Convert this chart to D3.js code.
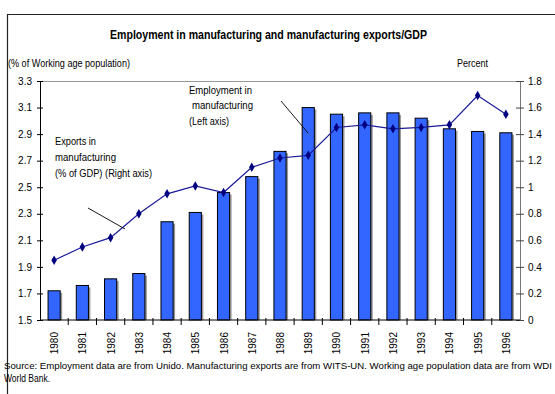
<!DOCTYPE html>
<html>
<head>
<meta charset="utf-8">
<script src="https://cdn.jsdelivr.net/npm/d3@7"></script>
<style>
  html, body { margin: 0; padding: 0; background: #fff; }
  svg { display: block; font-family: "Liberation Sans", Arial, sans-serif; }
</style>
</head>
<body>
<svg id="chart" width="555" height="394"></svg>
<script>
// Data
const years = ["1980","1981","1982","1983","1984","1985","1986","1987","1988",
               "1989","1990","1991","1992","1993","1994","1995","1996"];
// Employment in manufacturing, % of working age population (left axis)
const employment = [1.72, 1.76, 1.81, 1.85, 2.24, 2.31, 2.46, 2.58, 2.77,
                    3.10, 3.05, 3.06, 3.06, 3.02, 2.94, 2.92, 2.91];
// Manufacturing exports, % of GDP (right axis)
const exportsGdp = [0.45, 0.55, 0.62, 0.80, 0.95, 1.01, 0.96, 1.15, 1.22,
                    1.24, 1.45, 1.47, 1.44, 1.45, 1.47, 1.69, 1.55];
const leftTicks = [1.5, 1.7, 1.9, 2.1, 2.3, 2.5, 2.7, 2.9, 3.1, 3.3];
const rightTicks = [0, 0.2, 0.4, 0.6, 0.8, 1, 1.2, 1.4, 1.6, 1.8];

const svg = d3.select("#chart");
const plotL = 40, plotR = 520, plotT = 81, plotB = 320;

const x = d3.scaleBand().domain(years).range([plotL, plotR])
  .paddingInner(0.57).paddingOuter(0.285);
const yL = d3.scaleLinear().domain([1.5, 3.3]).range([plotB, plotT]);
const yR = d3.scaleLinear().domain([0, 1.8]).range([plotB, plotT]);

// Outer frame (top and left edges)
svg.append("path")
  .attr("d", "M7.5,394 V14.5 H555")
  .attr("fill", "none").attr("stroke", "#222").attr("stroke-width", 1.2);

// Title
svg.append("text")
  .attr("x", 110).attr("y", 39)
  .attr("textLength", 317).attr("lengthAdjust", "spacingAndGlyphs")
  .attr("font-size", 12).attr("font-weight", "bold").attr("fill", "#000")
  .text("Employment in manufacturing and manufacturing exports/GDP");

// Axis unit captions
svg.append("text").attr("x", 8).attr("y", 67)
  .attr("textLength", 122).attr("lengthAdjust", "spacingAndGlyphs")
  .attr("font-size", 10).text("(% of Working age population)");
svg.append("text").attr("x", 457).attr("y", 67)
  .attr("textLength", 31).attr("lengthAdjust", "spacingAndGlyphs")
  .attr("font-size", 10).text("Percent");

// Plot top border
svg.append("line")
  .attr("x1", plotL).attr("x2", plotR).attr("y1", plotT + 0.5).attr("y2", plotT + 0.5)
  .attr("stroke", "#999").attr("stroke-width", 1);

// Bars with a soft grey shadow
const bars = svg.append("g");
bars.selectAll("rect.shadow").data(years).join("rect")
  .attr("class", "shadow")
  .attr("x", d => x(d) + 2)
  .attr("y", (d, i) => yL(employment[i]) + 2)
  .attr("width", x.bandwidth())
  .attr("height", (d, i) => plotB - yL(employment[i]) - 2)
  .attr("fill", "#9a9a9a");
bars.selectAll("rect.bar").data(years).join("rect")
  .attr("class", "bar")
  .attr("x", d => x(d))
  .attr("y", (d, i) => yL(employment[i]))
  .attr("width", x.bandwidth())
  .attr("height", (d, i) => plotB - yL(employment[i]))
  .attr("fill", "#3366ff").attr("stroke", "#000").attr("stroke-width", 1);

// Left axis
const gL = svg.append("g").attr("transform", `translate(${plotL},0)`)
  .call(d3.axisLeft(yL).tickValues(leftTicks).tickSize(3).tickPadding(5)
    .tickFormat(d3.format(".1f")));
gL.select(".domain").attr("stroke", "#000");
gL.selectAll(".tick line").attr("x1", 3).attr("x2", -3).attr("stroke", "#000");
gL.selectAll(".tick text").attr("font-size", 10).attr("font-family", "Liberation Sans, Arial, sans-serif").attr("fill", "#000");

// Right axis
const gR = svg.append("g").attr("transform", `translate(${plotR},0)`)
  .call(d3.axisRight(yR).tickValues(rightTicks).tickSize(3).tickPadding(5)
    .tickFormat(d => d3.format("~g")(d)));
gR.select(".domain").attr("stroke", "#777");
gR.selectAll(".tick line").attr("x1", -4).attr("x2", 4).attr("stroke", "#444");
gR.selectAll(".tick text").attr("font-size", 10).attr("font-family", "Liberation Sans, Arial, sans-serif").attr("fill", "#000");

// Bottom axis: baseline, category boundary ticks, rotated year labels
svg.append("line")
  .attr("x1", plotL).attr("x2", plotR).attr("y1", plotB).attr("y2", plotB)
  .attr("stroke", "#000");
const step = x.step();
svg.append("g").selectAll("line").data(years.slice(1)).join("line")
  .attr("x1", d => x(d) + x.bandwidth() / 2 - step / 2)
  .attr("x2", d => x(d) + x.bandwidth() / 2 - step / 2)
  .attr("y1", plotB - 2).attr("y2", plotB + 5)
  .attr("stroke", "#000");
svg.append("g").selectAll("text").data(years).join("text")
  .attr("transform", d => `translate(${x(d) + x.bandwidth() / 2 + 4},332) rotate(-90)`)
  .attr("text-anchor", "end").attr("font-size", 10).text(d => d);

// Exports line with diamond markers
const cx = d => x(d) + x.bandwidth() / 2;
svg.append("path")
  .datum(years)
  .attr("d", d3.line().x(cx).y((d, i) => yR(exportsGdp[i])))
  .attr("fill", "none").attr("stroke", "#1a1a99").attr("stroke-width", 1.2);
svg.append("g").selectAll("path").data(years).join("path")
  .attr("d", d3.symbol().type(d3.symbolDiamond).size(26))
  .attr("transform", (d, i) => `translate(${cx(d)},${yR(exportsGdp[i])})`)
  .attr("fill", "#000080");

// Callouts
const callout = svg.append("g").attr("font-size", 10).attr("fill", "#000");
[["Employment in", 94, 189, 63], ["manufacturing", 109, 192, 61], ["(Left axis)", 125, 189, 40]]
  .forEach(([t, y, tx, w]) => {
    callout.append("text").attr("x", tx).attr("y", y).text(t)
      .attr("textLength", w).attr("lengthAdjust", "spacingAndGlyphs");
  });
[["Exports in", 145, 41], ["manufacturing", 161, 61], ["(% of GDP) (Right axis)", 177, 97]]
  .forEach(([t, y, w]) => {
    callout.append("text").attr("x", 55).attr("y", y).text(t)
      .attr("textLength", w).attr("lengthAdjust", "spacingAndGlyphs");
  });
svg.append("line").attr("x1", 281).attr("y1", 101).attr("x2", 308).attr("y2", 133)
  .attr("stroke", "#000").attr("stroke-width", 0.9);
svg.append("line").attr("x1", 88).attr("y1", 208).attr("x2", 125).attr("y2", 229)
  .attr("stroke", "#000").attr("stroke-width", 0.9);

// Source note
svg.append("text").attr("x", 4).attr("y", 369).attr("font-size", 9.1)
  .attr("textLength", 548).attr("lengthAdjust", "spacingAndGlyphs")
  .text("Source: Employment data are from Unido. Manufacturing exports are from WITS-UN. Working age population data are from WDI");
svg.append("text").attr("x", 4).attr("y", 382).attr("font-size", 10)
  .attr("textLength", 46).attr("lengthAdjust", "spacingAndGlyphs")
  .text("World Bank.");
</script>
</body>
</html>
